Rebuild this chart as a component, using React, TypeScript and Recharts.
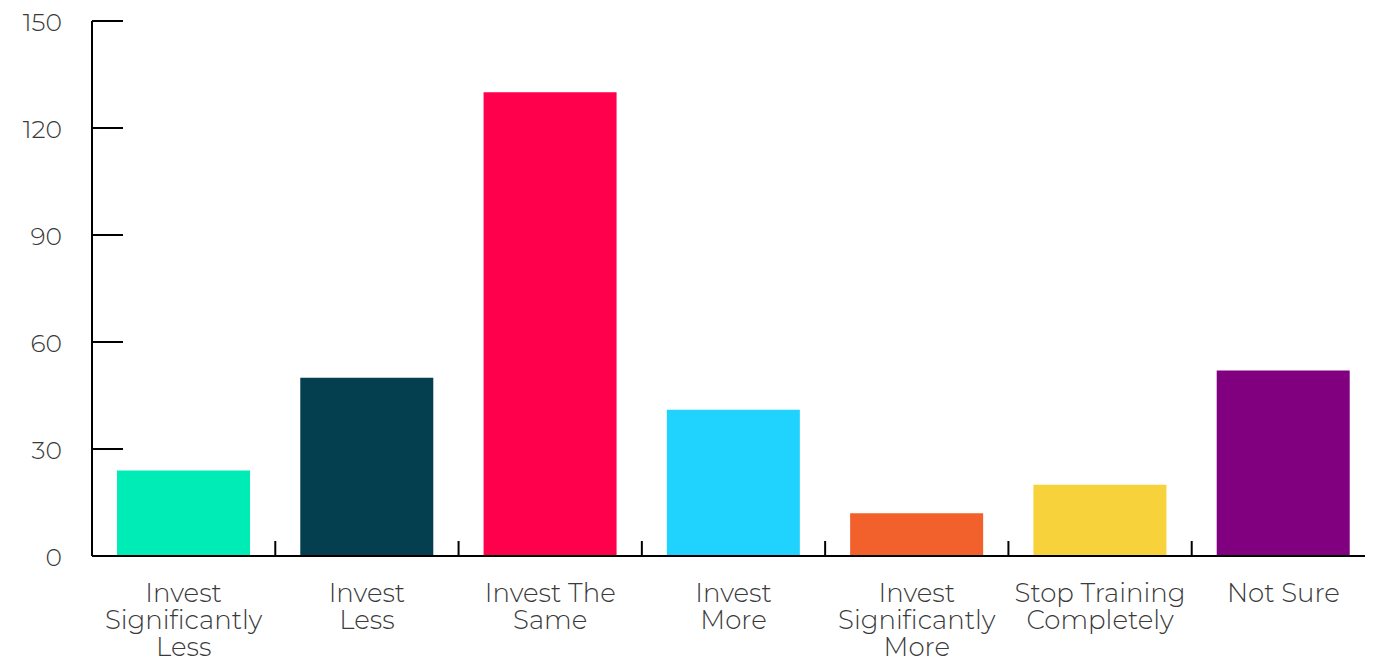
import React from 'react';
import { BarChart, Bar, XAxis, YAxis, Cell } from 'recharts';

// Answers and counts
const categories = [
  'Invest\nSignificantly\nLess',
  'Invest\nLess',
  'Invest The\nSame',
  'Invest\nMore',
  'Invest\nSignificantly\nMore',
  'Stop Training\nCompletely',
  'Not Sure',
];
const counts = [24, 50, 130, 41, 12, 20, 52];
const barColors = ['#00ecb6', '#033f4f', '#ff004c', '#20d3ff', '#f2602c', '#f7d23a', '#800080'];
const yTicks = [0, 30, 60, 90, 120, 150];

const data = categories.map((name, i) => ({ name, value: counts[i] }));

const WIDTH = 1367;
const HEIGHT = 652;
const LEFT = 84;
const BAND = (WIDTH - LEFT) / categories.length;
const FONT = "Montserrat, 'DejaVu Sans', sans-serif";
const TEXT = '#3a3a3a';

// Y tick: short line pointing into the plot, label pushed well to the left
const YTick = ({ x, y, payload }: any) => (
  <g>
    <line x1={x} x2={x + 31} y1={y} y2={y} stroke="#000" strokeWidth={2} />
    <text
      x={x - 30}
      y={y + 1}
      textAnchor="end"
      dominantBaseline="central"
      fontFamily={FONT}
      fontWeight={300}
      fontSize={25}
      fill={TEXT}
    >
      {payload.value}
    </text>
  </g>
);

// X tick: divider at the band's left edge, label lines centred under the bar
const XTick = ({ x, y, payload }: any) => {
  const lines = String(payload.value).split('\n');
  const edge = x - BAND / 2;
  return (
    <g>
      <line x1={edge} x2={edge} y1={y - 15} y2={y} stroke="#000" strokeWidth={2} />
      <text
        x={x}
        y={y + 37}
        textAnchor="middle"
        fontFamily={FONT}
        fontWeight={300}
        fontSize={26}
        fill={TEXT}
      >
        {lines.map((line, i) => (
          <tspan key={i} x={x} dy={i === 0 ? 0 : 27} dominantBaseline="central">
            {line}
          </tspan>
        ))}
      </text>
    </g>
  );
};

const App = () => (
  <BarChart
    width={WIDTH}
    height={HEIGHT}
    data={data}
    margin={{ top: 13, right: 0, left: 0, bottom: 4 }}
  >
    <XAxis
      dataKey="name"
      interval={0}
      height={100}
      tickSize={0}
      tickMargin={0}
      tickLine={false}
      axisLine={{ stroke: '#000', strokeWidth: 2 }}
      tick={<XTick />}
    />
    <YAxis
      domain={[0, 150]}
      ticks={yTicks}
      width={LEFT}
      tickSize={0}
      tickMargin={0}
      tickLine={false}
      axisLine={{ stroke: '#000', strokeWidth: 2 }}
      tick={<YTick />}
    />
    <Bar dataKey="value" barSize={133} isAnimationActive={false}>
      {data.map((entry, i) => (
        <Cell key={`cell-${i}`} fill={barColors[i]} />
      ))}
    </Bar>
  </BarChart>
);

export default App;
